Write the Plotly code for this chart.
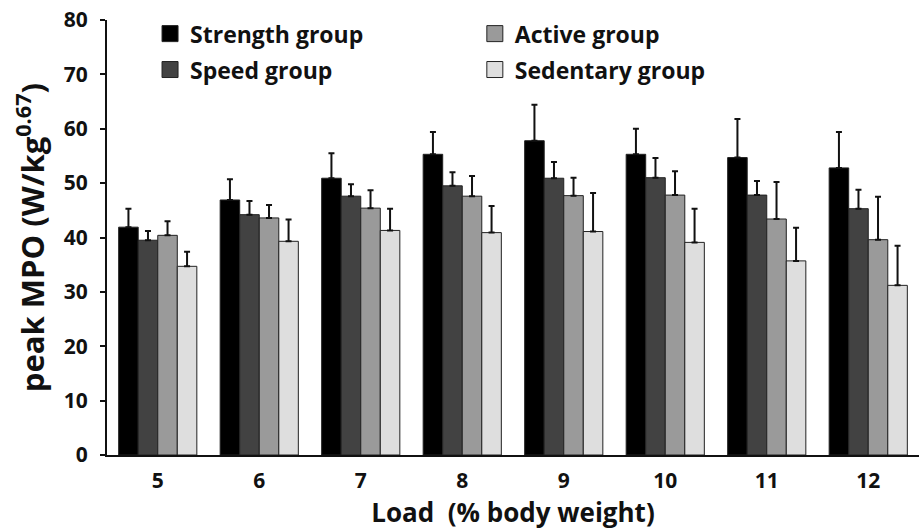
import plotly.graph_objects as go

loads = ["5", "6", "7", "8", "9", "10", "11", "12"]
strength = [41.9, 46.9, 50.9, 55.3, 57.8, 55.3, 54.7, 52.8]
strength_sd = [3.4, 3.8, 4.6, 4.1, 6.6, 4.7, 7.1, 6.6]
speed = [39.5, 44.2, 47.6, 49.5, 50.9, 51.0, 47.8, 45.3]
speed_sd = [1.7, 2.5, 2.2, 2.5, 3.0, 3.6, 2.6, 3.5]
active = [40.4, 43.6, 45.4, 47.6, 47.7, 47.8, 43.4, 39.6]
active_sd = [2.6, 2.4, 3.3, 3.7, 3.3, 4.4, 6.8, 7.9]
sedentary = [34.7, 39.3, 41.3, 40.9, 41.1, 39.1, 35.7, 31.2]
sedentary_sd = [2.7, 4.0, 4.0, 4.9, 7.1, 6.2, 6.1, 7.3]

FONT = "'Open Sans', Lato, sans-serif"
EDGE = "#222222"

series = [
    ("Strength group", strength, strength_sd, "#000000", "legend"),
    ("Speed group", speed, speed_sd, "#424242", "legend"),
    ("Active group", active, active_sd, "#9a9a9a", "legend2"),
    ("Sedentary group", sedentary, sedentary_sd, "#dedede", "legend2"),
]

fig = go.Figure()
for name, vals, sd, col, lg in series:
    fig.add_trace(go.Bar(
        x=loads, y=vals, name=name, showlegend=False,
        marker=dict(color=col, line=dict(color=EDGE, width=1)),
        error_y=dict(type="data", array=sd, arrayminus=[0] * len(sd),
                     symmetric=False, color="#111111", thickness=2, width=3),
    ))

# legend proxies (larger square swatches, like the reference)
for name, vals, sd, col, lg in series:
    fig.add_trace(go.Scatter(
        x=[None], y=[None], mode="markers", name=name, legend=lg,
        legendgroup=name,
        marker=dict(symbol="square", size=16, color=col, line=dict(color=EDGE, width=1)),
    ))

legend_common = dict(
    yanchor="top", xanchor="left", y=1.018,
    font=dict(size=23, family=FONT, weight="bold", color="#111111"),
    bgcolor="rgba(0,0,0,0)", itemwidth=30, tracegroupgap=3,
)

fig.update_layout(
    width=920, height=532,
    margin=dict(l=107, r=1, t=20, b=77),
    paper_bgcolor="white", plot_bgcolor="white",
    barmode="group", bargap=0.23, bargroupgap=0,
    font=dict(family=FONT, color="#111111"),
    legend=dict(x=0.053, **legend_common),
    legend2=dict(x=0.453, **legend_common),
    showlegend=True,
)
fig.update_xaxes(
    showline=True, linecolor="#111111", linewidth=2,
    ticks="", ticklabelstandoff=6,
    tickfont=dict(size=21, family=FONT, weight="bold", color="#111111"),
    title=dict(text="Load  (% body weight)",
               font=dict(size=26, family=FONT, weight="bold", color="#111111"), standoff=5),
    showgrid=False, zeroline=False,
)
fig.update_yaxes(
    range=[0, 80], dtick=10,
    showline=True, linecolor="#111111", linewidth=2,
    ticks="outside", ticklen=5, tickwidth=1.5, tickcolor="#111111",
    ticklabelstandoff=8,
    tickfont=dict(size=21, family=FONT, weight="bold", color="#111111"),
    title=dict(text="peak MPO (W/kg<sup>0.67</sup>)",
               font=dict(size=31, family=FONT, weight="bold", color="#111111"), standoff=10),
    showgrid=False, zeroline=False,
)

fig.write_html("out.html")
